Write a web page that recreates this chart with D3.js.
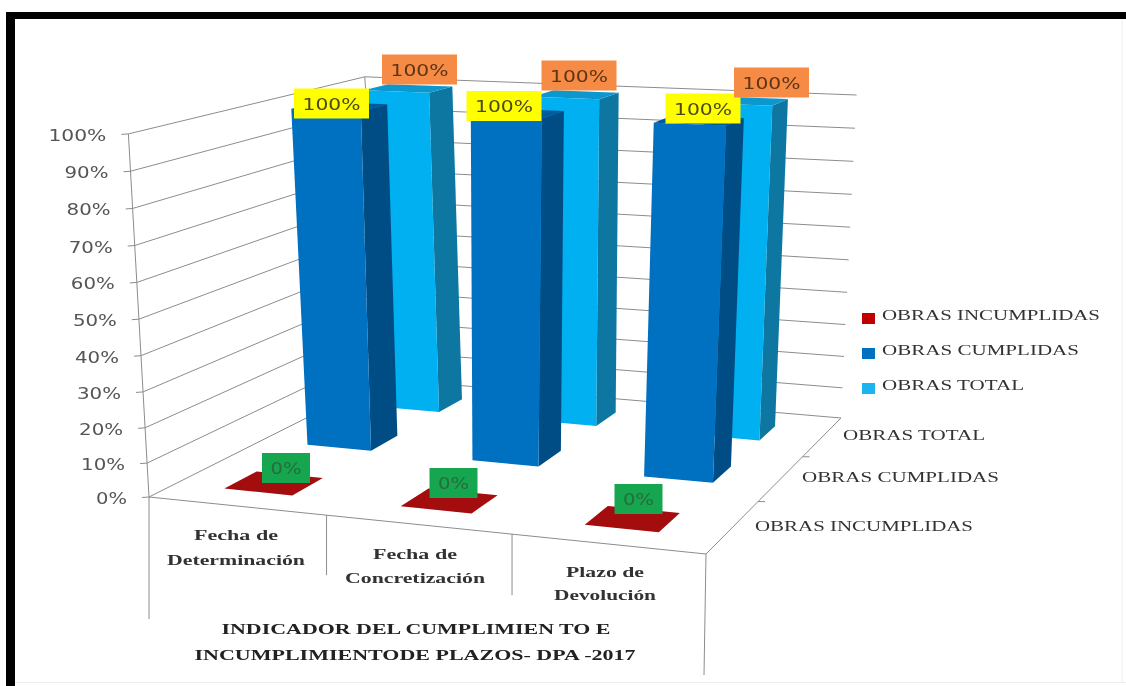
<!DOCTYPE html>
<html><head><meta charset="utf-8">
<script src="https://cdn.jsdelivr.net/npm/d3@7/dist/d3.min.js"></script>
<style>html,body{margin:0;padding:0;background:#fff}svg{display:block}</style>
</head><body><svg id="c" width="1126" height="686"></svg>
<script>
const categories = [["Fecha de","Determinación"],["Fecha de","Concretización"],["Plazo de","Devolución"]];
const seriesNames = ["OBRAS INCUMPLIDAS","OBRAS CUMPLIDAS","OBRAS TOTAL"];
const incumplidas = [0,0,0];
const cumplidas = [1,1,1];
const total = [1,1,1];
const yTicks = [0,.1,.2,.3,.4,.5,.6,.7,.8,.9,1];
const titleLines = ["INDICADOR DEL CUMPLIMIEN TO E","INCUMPLIMIENTODE PLAZOS- DPA -2017"];

// perspective box corners: A front-left, B front-right, C back-right, D back-left
const floorQuad = [[149,497],[706,554],[841,418],[384,379]];
const topQuad   = [[128.4,133.9],[723.1,158],[856.6,95],[364.8,76.8]];
function homography(q){
  const [[x0,y0],[x1,y1],[x2,y2],[x3,y3]]=q;
  const dx1=x1-x2,dx2=x3-x2,sx=x0-x1+x2-x3,dy1=y1-y2,dy2=y3-y2,sy=y0-y1+y2-y3;
  const den=dx1*dy2-dx2*dy1,g=(sx*dy2-dx2*sy)/den,h=(dx1*sy-sx*dy1)/den;
  const a=x1-x0+g*x1,b=x3-x0+h*x3,d=y1-y0+g*y1,e=y3-y0+h*y3;
  return (u,v)=>{const w=g*u+h*v+1;return [(a*u+b*v+x0)/w,(d*u+e*v+y0)/w];};
}
const hFloor=homography(floorQuad),hTop=homography(topQuad);
const vScale=d3.scalePow().exponent(1.03).domain([0,1]).range([0,1]);
const uBand=d3.scaleBand().domain(d3.range(categories.length)).range([-.0067,.9933]).paddingInner(.61).paddingOuter(.305);
const dBand=d3.scaleBand().domain(d3.range(seriesNames.length)).range([-.0117,.9883]).paddingInner(.63).paddingOuter(.315);
function P(u,d,v){
  const a=hFloor(u,d),b=hTop(u,d),t=vScale(v);
  return [a[0]+(b[0]-a[0])*t,a[1]+(b[1]-a[1])*t];
}
const svg=d3.select("#c");
const defs=svg.append("defs");
defs.append("filter").attr("id","soft").append("feGaussianBlur").attr("stdDeviation",.45);
// frame
svg.append("rect").attr("x",6).attr("y",12).attr("width",1120).attr("height",7).attr("fill","#000");
svg.append("rect").attr("x",6).attr("y",12).attr("width",9).attr("height",674).attr("fill","#000");
svg.append("line").attr("x1",1122).attr("x2",1122).attr("y1",19).attr("y2",682).attr("stroke","#eee");
svg.append("line").attr("x1",15).attr("x2",1126).attr("y1",682.5).attr("y2",682.5).attr("stroke","#eee");

const g=svg.append("g").attr("filter","url(#soft)");
const grid="#8c8c8c";
const seg=(a,b,c=grid,w=1)=>g.append("line").attr("x1",a[0]).attr("y1",a[1]).attr("x2",b[0]).attr("y2",b[1]).attr("stroke",c).attr("stroke-width",w);
// walls
yTicks.forEach(v=>{
  const a=P(0,0,v),b=P(0,1,v),c=P(1,1,v);
  g.append("path").attr("d",d3.line()([[a[0]-7,a[1]+.5],a,b,c])).attr("fill","none").attr("stroke",grid).attr("stroke-width",1);
});
seg(P(0,0,0),P(0,0,1));
seg(P(0,1,0),P(0,1,1));
// floor edges
seg(P(0,0,0),P(1,0,0));
seg(P(1,0,0),P(1,1,0));
// category dividers hanging below the front edge
const dropLen=[122,60,61,121];
d3.range(categories.length+1).forEach(i=>{
  const a=P(i/categories.length,0,0);
  seg(a,[a[0]-(i===3?2:0),a[1]+dropLen[i]]);
});
// depth ticks
[1/3,2/3].forEach(t=>{const a=P(1,t,0);seg(a,[a[0]+7,a[1]]);});

const fit=(s,w)=>s.attr("textLength",w).attr("lengthAdjust","spacingAndGlyphs");
const sans="'DejaVu Sans',sans-serif",serif="'Liberation Serif',serif";

// bars
const colors={0:{f:"#a30808",s:"#7c0505",t:"#a30808"},1:{f:"#0070c0",s:"#004d85",t:"#005a9c"},2:{f:"#00b0f0",s:"#0a77a2",t:"#0c97cf"}};
const poly=(pts,c)=>g.append("polygon").attr("points",pts.map(p=>p.join(",")).join(" ")).attr("fill",c);
const seriesVals=[incumplidas,cumplidas,total];
[2,1,0].forEach(si=>{
  categories.forEach((_,ci)=>{
    const v=seriesVals[si][ci],u0=uBand(ci),u1=u0+uBand.bandwidth(),d0=dBand(si),d1=d0+dBand.bandwidth(),col=colors[si];
    if(v>0){
      poly([P(u1,d0,0),P(u1,d1,0),P(u1,d1,v),P(u1,d0,v)],col.s);
      poly([P(u0,d0,v),P(u1,d0,v),P(u1,d1,v),P(u0,d1,v)],col.t);
      poly([P(u0,d0,0),P(u1,d0,0),P(u1,d0,v),P(u0,d0,v)],col.f);
    } else {
      poly([P(u0,d0,0),P(u1,d0,0),P(u1,d1,0),P(u0,d1,0)],col.f);
    }
  });
});

// data labels (hand-placed boxes, as in the original)
const labelFill=["#12a650","#ffff00","#f58b45"];
const labelInk=["#2c6a3e","#4a4a1c","#5e3416"];
const labelSize=[[48,30],[75,30],[75,30]];
const labelCenter=[[[286,468],[453.5,483],[638.5,499]],[[331.5,103.5],[504,106],[703,108.5]],[[419.5,69.5],[579,75.5],[771.5,82.5]]];
[0,1,2].forEach(si=>{
  categories.forEach((_,ci)=>{
    const v=seriesVals[si][ci],[cx,cy]=labelCenter[si][ci],[w,h]=labelSize[si];
    g.append("rect").attr("x",cx-w/2).attr("y",cy-h/2).attr("width",w).attr("height",h).attr("fill",labelFill[si]);
    fit(g.append("text").attr("x",cx).attr("y",cy+6).attr("text-anchor","middle").attr("font-family",sans).attr("font-size",15.5).attr("fill",labelInk[si]).text(d3.format(".0%")(v)),si===0?31:58);
  });
});

// y axis labels
yTicks.forEach(v=>{
  const p=P(0,0,v);
  fit(g.append("text").attr("x",p[0]-22).attr("y",p[1]+7).attr("text-anchor","end").attr("font-family",sans).attr("font-size",15.5).attr("fill","#555").text(d3.format(".0%")(v)),v===1?58:(v===0?31:44));
});

// category labels
const catPos=[[236,535,560,84,138],[415,554,578,84,140],[605,572,595,78,102]];
categories.forEach((c,i)=>{
  const [x,y1,y2,w1,w2]=catPos[i];
  [[c[0],y1,w1],[c[1],y2,w2]].forEach(([t,y,w])=>{
    fit(g.append("text").attr("x",x).attr("y",y+5).attr("text-anchor","middle").attr("font-family",serif).attr("font-weight","bold").attr("font-size",14.5).attr("fill","#333").text(t),w);
  });
});
// title
[[416,634,389],[415,660,441]].forEach(([x,y,w],i)=>{
  fit(g.append("text").attr("x",x).attr("y",y).attr("text-anchor","middle").attr("font-family",serif).attr("font-weight","bold").attr("font-size",15).attr("fill","#222").text(titleLines[i]),w);
});
// depth axis labels
[[755,531,218],[802,482,197],[843,440,142]].forEach(([x,y,w],i)=>{
  fit(g.append("text").attr("x",x).attr("y",y).attr("font-family",serif).attr("font-size",15).attr("fill","#333").text(seriesNames[i]),w);
});
// legend
const legendY=d3.scalePoint().domain(seriesNames).range([318,388]);
const legendW=[218,197,142];
seriesNames.forEach((n,i)=>{
  const y=legendY(n);
  g.append("rect").attr("x",862).attr("y",y-5).attr("width",13).attr("height",11).attr("fill",["#c00000","#0070c0","#1fb4ee"][i]);
  fit(g.append("text").attr("x",882).attr("y",y+2).attr("font-family",serif).attr("font-size",15).attr("fill","#333").text(n),legendW[i]);
});
</script></body></html>
